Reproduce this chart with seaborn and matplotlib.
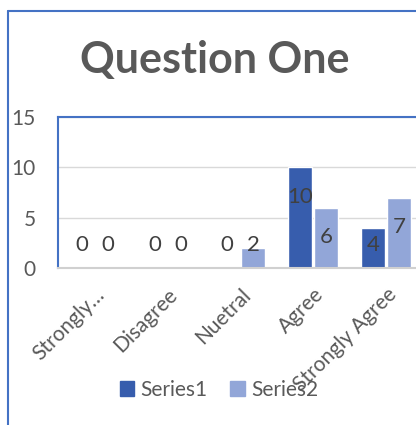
import matplotlib
matplotlib.use("Agg")
import matplotlib.pyplot as plt
import matplotlib.patches as mpatches
import pandas as pd
import seaborn as sns

categories = ["Strongly…", "Disagree", "Nuetral", "Agree", "Strongly Agree"]
series1 = [0, 0, 0, 10, 4]
series2 = [0, 0, 2, 6, 7]
series_names = ["Series1", "Series2"]
y_ticks = [0, 5, 10, 15]

df = pd.DataFrame({
    "category": categories * 2,
    "value": series1 + series2,
    "series": [series_names[0]] * len(categories) + [series_names[1]] * len(categories),
})

sns.set_style("white")
plt.rcParams["font.family"] = ["Lato", "DejaVu Sans"]

W, H = 416, 425
fig = plt.figure(figsize=(W / 100, H / 100), dpi=100)
left, right, top, bottom = 58, 422.5, 117, 268
ax = fig.add_axes([left / W, 1 - bottom / H, (right - left) / W, (bottom - top) / H])

palette = {"Series1": "#375DAD", "Series2": "#92A6D8"}
sns.barplot(data=df, x="category", y="value", hue="series", order=categories,
            hue_order=series_names, palette=palette, width=0.712, gap=0.08,
            saturation=1, ax=ax, legend=False)

ax.set_ylim(0, 15)
ax.set_yticks(y_ticks)
ax.set_xlim(-0.5, len(categories) - 0.5)
ax.yaxis.grid(True, color="#D9D9D9", linewidth=1)
ax.set_axisbelow(True)
ax.set_xlabel("")
ax.set_ylabel("")
for side in ["left", "top", "right"]:
    ax.spines[side].set_color("#4472C4")
    ax.spines[side].set_linewidth(1.5)
ax.spines["bottom"].set_color("#D0D0D0")
ax.spines["bottom"].set_linewidth(1.5)
ax.tick_params(axis="y", length=0, pad=16, labelsize=15, labelcolor="#595959")
ax.tick_params(axis="x", length=0, pad=12, labelsize=15, labelcolor="#595959")
for lab in ax.get_xticklabels():
    lab.set_rotation(45)
    lab.set_ha("right")
    lab.set_rotation_mode("anchor")

# data labels
for patch_group, vals in zip(ax.containers, [series1, series2]):
    for bar, v in zip(patch_group, vals):
        xc = bar.get_x() + bar.get_width() / 2
        ax.text(xc, max(v - 2.9, 2.3), str(v), ha="center", va="center",
                fontsize=16, color="#404040", clip_on=False)

fig.text(215 / W, 1 - 60 / H, "Question One", ha="center", va="center",
         fontsize=31, fontweight="bold", color="#595959")

handles = [mpatches.Patch(color=palette[s], label=s) for s in series_names]
fig.legend(handles=handles, loc="center", bbox_to_anchor=(219 / W, 1 - 390 / H),
           ncol=2, frameon=False, fontsize=15, labelcolor="#595959",
           handlelength=0.7, handleheight=0.7, handletextpad=0.3, columnspacing=1.1)

# outer chart frame
fig.add_artist(plt.Line2D([8 / W, 8 / W], [0, 1 - 11 / H], color="#4472C4", lw=1.5))
fig.add_artist(plt.Line2D([8 / W, 1], [1 - 11 / H, 1 - 11 / H], color="#4472C4", lw=1.5))

fig.savefig("out.png", dpi=100)
